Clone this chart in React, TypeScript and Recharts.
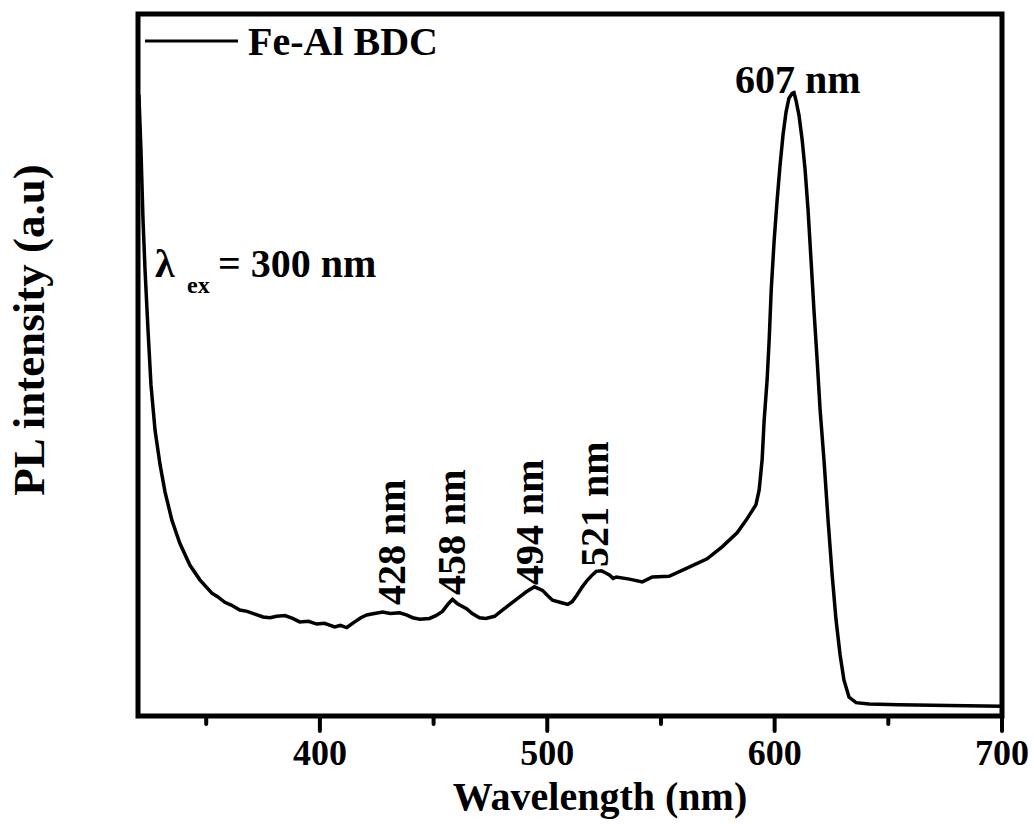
import { LineChart, Line, XAxis, YAxis, ReferenceArea, Customized } from "recharts";

// PL spectrum of Fe-Al BDC
const wavelength = [
  320.4, 321.3, 322.2, 323.1, 324.4, 325.7, 327.5, 329.7, 331.9, 334.9, 338.4, 342.8, 347.2, 352.5, 355.0,
  358.2, 361.0, 364.8, 368.0, 371.4, 375.0, 378.0, 381.0, 384.6, 388.0, 391.1, 395.0, 398.6, 402.0, 406.5,
  409.0, 411.8, 415.3, 418.0, 420.6, 424.0, 427.6, 431.0, 435.1, 438.0, 440.8, 444.0, 448.2, 451.0, 453.9,
  456.5, 458.3, 460.5, 464.5, 467.0, 470.2, 473.0, 476.8, 480.0, 484.7, 488.0, 490.8, 494.4, 497.9, 500.0,
  502.3, 506.7, 509.0, 511.0, 513.0, 515.4, 517.5, 519.8, 521.5, 523.8, 525.5, 527.3, 529.0, 530.4, 536.1,
  541.8, 546.2, 553.6, 562.4, 570.3, 576.9, 583.5, 587.5, 591.8, 593.2, 594.5, 595.4, 596.7, 597.6, 598.5,
  599.8, 601.1, 602.4, 603.7, 605.0, 606.3, 607.7, 608.5, 609.4, 610.7, 612.1, 613.4, 614.7, 616.0, 617.3,
  618.7, 620.0, 621.7, 623.5, 625.3, 627.0, 628.8, 630.5, 632.7, 635.8, 641.5, 654.7, 676.6, 700.0,
];
const intensity = [
  88.5, 80.6, 70.7, 63.5, 55.0, 47.2, 40.7, 35.8, 31.9, 27.9, 24.6, 21.5, 19.4, 17.5, 17.0,
  16.2, 15.8, 15.1, 14.9, 14.5, 14.1, 14.0, 14.2, 14.3, 13.9, 13.4, 13.5, 13.1, 13.2, 12.7,
  12.9, 12.6, 13.4, 14.0, 14.4, 14.6, 14.8, 14.6, 14.7, 14.4, 14.0, 13.8, 13.9, 14.3, 14.9,
  16.0, 16.6, 16.0, 15.3, 14.6, 14.0, 13.9, 14.2, 15.0, 16.2, 17.0, 17.7, 18.4, 17.9, 17.2,
  16.5, 16.1, 15.9, 16.3, 17.2, 18.4, 19.3, 20.1, 20.6, 20.7, 20.4, 20.1, 19.6, 19.8, 19.5,
  19.1, 19.8, 19.9, 21.2, 22.4, 24.1, 26.1, 27.9, 30.1, 32.2, 36.5, 42.2, 47.9, 53.6, 60.7,
  67.8, 73.5, 78.5, 82.8, 86.0, 88.0, 88.7, 88.8, 87.7, 85.6, 82.1, 77.8, 72.1, 65.0, 57.8,
  50.7, 43.6, 36.5, 27.9, 20.1, 13.7, 8.7, 5.1, 2.7, 1.9, 1.7, 1.6, 1.5, 1.4,
];
const majorTicks = [400, 500, 600, 700];
const allTicks = [350, 400, 450, 500, 550, 600, 650, 700];
const peakLabels = ["428 nm", "458 nm", "494 nm", "521 nm"];

const data = wavelength.map((w, i) => ({ w, pl: intensity[i] }));

const FONT = "'Liberation Serif', 'Times New Roman', serif";

function AxisTick(props: any) {
  const { x, y, payload } = props;
  const major = majorTicks.includes(payload.value);
  return (
    <g>
      <line x1={x} x2={x} y1={y} y2={y + (major ? 15 : 8)} stroke="#000" strokeWidth={4} strokeLinecap="round" />
      {major && (
        <text x={x} y={y + 49} textAnchor="middle" fontFamily={FONT} fontWeight="bold" fontSize={36} fill="#000">
          {payload.value}
        </text>
      )}
    </g>
  );
}

// texts placed like in the figure
const peakPos = [
  { x: 405, y: 605 },
  { x: 465, y: 595 },
  { x: 543, y: 585 },
  { x: 608, y: 567 },
];

function Annotations() {
  const t = { fontFamily: FONT, fontWeight: "bold" as const, fill: "#000" };
  return (
    <g>
      <line x1={145} x2={238} y1={41} y2={41} stroke="#000" strokeWidth={3} />
      <text x={248} y={55} fontSize={40} {...t}>Fe-Al BDC</text>
      <text x={155} y={277} fontSize={40} {...t}>λ</text>
      <text x={187} y={293} fontSize={24} {...t}>ex</text>
      <text x={218} y={277} fontSize={40} {...t}>= 300 nm</text>
      <text x={735} y={93} fontSize={40} {...t}>607 nm</text>
      {peakLabels.map((s, i) => (
        <text key={s} x={peakPos[i].x} y={peakPos[i].y} fontSize={40} transform={`rotate(-90, ${peakPos[i].x}, ${peakPos[i].y})`} {...t}>
          {s}
        </text>
      ))}
      <text x={44} y={330} fontSize={45} textAnchor="middle" transform="rotate(-90, 44, 330)" {...t}>
        PL intensity (a.u)
      </text>
      <text x={600} y={810} fontSize={40} textAnchor="middle" {...t}>Wavelength (nm)</text>
    </g>
  );
}

export default function App() {
  return (
    <div style={{ position: "absolute", left: 0, top: 0, background: "#fff" }}>
      <LineChart width={1034} height={824} data={data} margin={{ top: 14, right: 32, bottom: 0, left: 138 }}>
        <XAxis
          dataKey="w"
          type="number"
          domain={[320, 700]}
          ticks={allTicks}
          tick={<AxisTick />}
          tickLine={false}
          axisLine={false}
          tickSize={0}
          tickMargin={0}
          height={108}
          interval={0}
          allowDataOverflow
        />
        <YAxis type="number" domain={[0, 100]} hide />
        <ReferenceArea x1={320} x2={700} y1={0} y2={100} fill="none" stroke="#000" strokeWidth={5} ifOverflow="visible" />
        <Line type="linear" dataKey="pl" stroke="#000" strokeWidth={3.5} dot={false} isAnimationActive={false} />
        <Customized component={Annotations} />
      </LineChart>
    </div>
  );
}
